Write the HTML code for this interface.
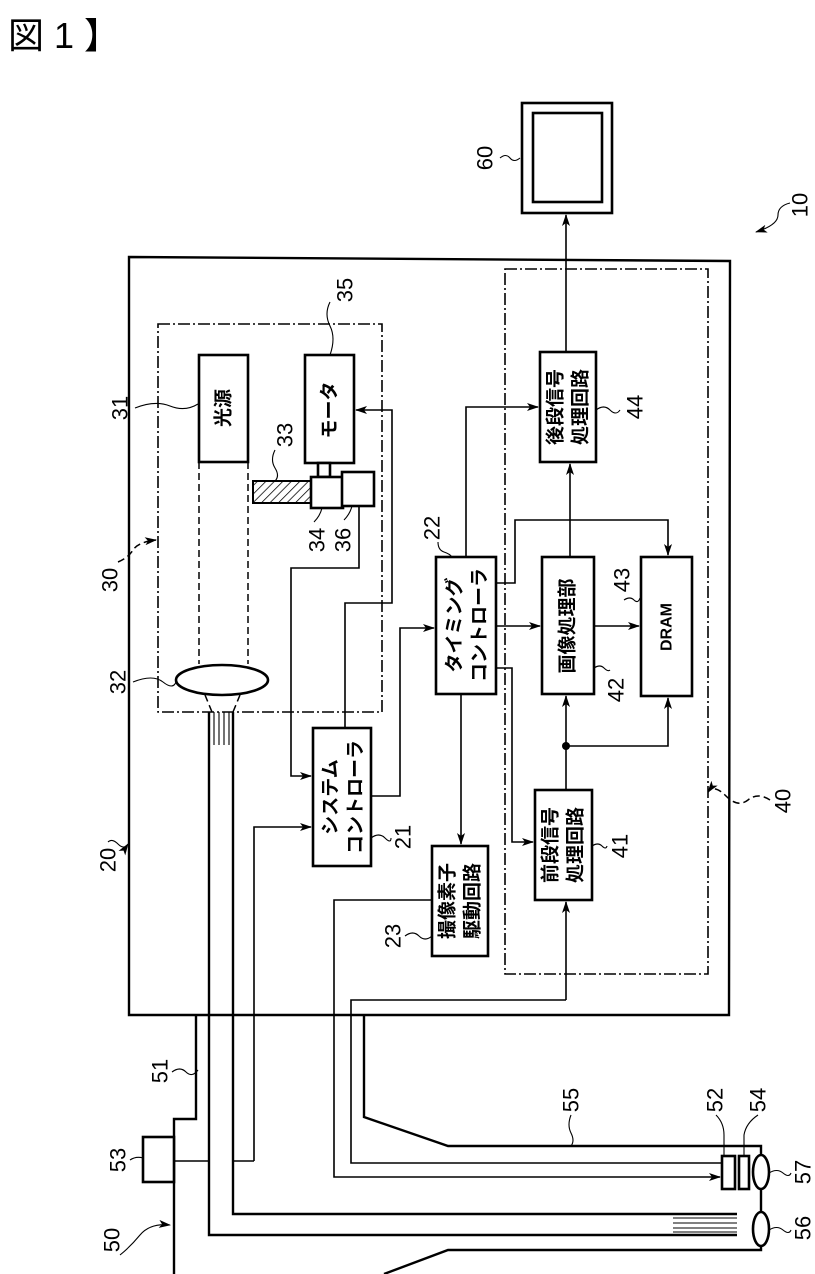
<!DOCTYPE html>
<html><head><meta charset="utf-8"><style>
html,body{margin:0;padding:0;background:#fff;}
svg{display:block;}
text{font-family:"Liberation Sans","Noto Sans CJK JP",sans-serif;fill:#000;}
.b{fill:#fff;stroke:#000;stroke-width:2.6;}
.l{fill:none;stroke:#000;stroke-width:1.6;}
.t{fill:none;stroke:#000;stroke-width:2.4;}
.d{fill:none;stroke:#000;stroke-width:1.6;stroke-dasharray:12,3,2,3;}
.dd{fill:none;stroke:#000;stroke-width:1.5;stroke-dasharray:7,4;}
.w{fill:none;stroke:#000;stroke-width:1.1;}
.n{font-size:22px;}
.j{font-size:19px;font-weight:bold;}
</style></head><body>
<svg width="815" height="1274" viewBox="0 0 815 1274" xmlns="http://www.w3.org/2000/svg">
<defs>
<marker id="a" markerWidth="12" markerHeight="8" refX="11" refY="4" orient="auto" markerUnits="userSpaceOnUse"><path d="M0,0 L12,4 L0,8 L3,4 Z" fill="#000"/></marker>
<pattern id="h" width="6" height="6" patternUnits="userSpaceOnUse" patternTransform="rotate(45)"><line x1="0" y1="0" x2="0" y2="6" stroke="#000" stroke-width="1.5"/></pattern>
</defs>
<text x="8" y="48" style="font-size:36px" xml:space="preserve">図 1 】</text>

<!-- monitor -->
<rect x="522" y="103" width="90" height="110" class="b"/>
<rect x="533" y="113" width="69" height="89" class="b" stroke-width="2"/>
<path d="M566,352 V215" class="l" marker-end="url(#a)"/>
<text class="n" transform="translate(485,158) rotate(-90)" text-anchor="middle" dominant-baseline="central">60</text>
<path d="M500,158 q6,-5 10,0 t10,0" class="w"/>
<text class="n" transform="translate(800,205) rotate(-90)" text-anchor="middle" dominant-baseline="central">10</text>
<path d="M790,203 q-12,3 -12,12 q0,10 -22,17" class="w" marker-end="url(#a)"/>

<!-- main frame 20 -->
<path d="M129,257 L730,261 L729,1015 L129,1015 Z" class="t"/>
<text class="n" transform="translate(108,860) rotate(-90)" text-anchor="middle" dominant-baseline="central">20</text>
<path d="M108,842 q4,-4 10,2 t10,0" class="w" marker-end="url(#a)"/>

<!-- dashed 30 -->
<rect x="158" y="324" width="224" height="388" class="d"/>
<text class="n" transform="translate(110,580) rotate(-90)" text-anchor="middle" dominant-baseline="central">30</text>
<path d="M118,562 q10,-4 15,-12 t23,-10" class="dd" marker-end="url(#a)"/>

<!-- light source -->
<rect x="199" y="355" width="49" height="107" class="b"/>
<text class="j" transform="translate(224,408) rotate(-90)" text-anchor="middle" dominant-baseline="central">光源</text>
<text class="n" transform="translate(120,408) rotate(-90)" text-anchor="middle" dominant-baseline="central">31</text>
<path d="M135,408 q20,-8 35,-2 t28,-2" class="w"/>
<path d="M199,462 V664 M248,462 V664" class="dd"/>
<ellipse cx="222" cy="680" rx="46" ry="15" class="b" stroke-width="2"/>
<text class="n" transform="translate(118,682) rotate(-90)" text-anchor="middle" dominant-baseline="central">32</text>
<path d="M133,682 q20,-8 30,0 t13,0" class="w"/>
<path d="M205,695 L212,712 M240,695 L233,712" class="dd"/>

<!-- motor -->
<rect x="305" y="355" width="49" height="108" class="b"/>
<text class="j" transform="translate(330,410) rotate(-90)" text-anchor="middle" dominant-baseline="central">モータ</text>
<text class="n" transform="translate(345,290) rotate(-90)" text-anchor="middle" dominant-baseline="central">35</text>
<path d="M330,302 q-6,12 0,24 t0,29" class="w"/>
<rect x="318" y="463" width="12" height="14" class="b" stroke-width="2"/>
<rect x="253" y="481" width="58" height="22" fill="url(#h)" stroke="#000" stroke-width="2"/>
<rect x="311" y="477" width="32" height="31" class="b" stroke-width="2"/>
<rect x="342" y="472" width="32" height="34" class="b" stroke-width="2"/>
<text class="n" transform="translate(285,435) rotate(-90)" text-anchor="middle" dominant-baseline="central">33</text>
<path d="M275,450 q-5,10 0,18 t0,13" class="w"/>
<text class="n" transform="translate(317,540) rotate(-90)" text-anchor="middle" dominant-baseline="central">34</text>
<text class="n" transform="translate(343,540) rotate(-90)" text-anchor="middle" dominant-baseline="central">36</text>
<path d="M322,508 q-2,8 -8,14" class="w"/>
<path d="M352,506 q-2,8 -8,14" class="w"/>

<!-- controller wiring -->
<path d="M359,506 V568 H291 V776 H311" class="l" marker-end="url(#a)"/>
<path d="M345,728 V603 H392 V410 H356" class="l" marker-end="url(#a)"/>
<path d="M371,796 H400 V628 H434" class="l" marker-end="url(#a)"/>
<path d="M254,1161 V827 H311" class="l" marker-end="url(#a)"/>

<!-- system controller 21 -->
<rect x="313" y="728" width="58" height="138" class="b"/>
<text class="j" transform="translate(331,797) rotate(-90)" text-anchor="middle" dominant-baseline="central">システム</text>
<text class="j" transform="translate(356,797) rotate(-90)" text-anchor="middle" dominant-baseline="central">コントローラ</text>
<text class="n" transform="translate(403,837) rotate(-90)" text-anchor="middle" dominant-baseline="central">21</text>
<path d="M371,838 q8,-6 14,0 t6,0" class="w"/>

<!-- timing 22 -->
<rect x="436" y="557" width="60" height="137" class="b"/>
<text class="j" transform="translate(455,625) rotate(-90)" text-anchor="middle" dominant-baseline="central">タイミング</text>
<text class="j" transform="translate(480,625) rotate(-90)" text-anchor="middle" dominant-baseline="central">コントローラ</text>
<text class="n" transform="translate(432,528) rotate(-90)" text-anchor="middle" dominant-baseline="central">22</text>
<path d="M438,542 q0,8 6,10 t8,5" class="w"/>

<!-- 23 -->
<rect x="432" y="846" width="56" height="110" class="b"/>
<text class="j" transform="translate(448,901) rotate(-90)" text-anchor="middle" dominant-baseline="central">撮像素子</text>
<text class="j" transform="translate(473,901) rotate(-90)" text-anchor="middle" dominant-baseline="central">駆動回路</text>
<text class="n" transform="translate(393,936) rotate(-90)" text-anchor="middle" dominant-baseline="central">23</text>
<path d="M405,936 q8,-6 14,0 t13,0" class="w"/>
<path d="M461,694 V844" class="l" marker-end="url(#a)"/>

<!-- dashed 40 -->
<rect x="505" y="269" width="203" height="705" class="d"/>
<text class="n" transform="translate(783,801) rotate(-90)" text-anchor="middle" dominant-baseline="central">40</text>
<path d="M770,800 q-12,-8 -22,0 t-22,-4 t-18,-4" class="dd" marker-end="url(#a)"/>

<!-- 44 -->
<rect x="540" y="352" width="56" height="110" class="b"/>
<text class="j" transform="translate(556,407) rotate(-90)" text-anchor="middle" dominant-baseline="central">後段信号</text>
<text class="j" transform="translate(581,407) rotate(-90)" text-anchor="middle" dominant-baseline="central">処理回路</text>
<text class="n" transform="translate(635,407) rotate(-90)" text-anchor="middle" dominant-baseline="central">44</text>
<path d="M596,410 q8,-6 14,0 t10,0" class="w"/>
<path d="M466,557 V407 H538" class="l" marker-end="url(#a)"/>
<path d="M570,557 V464" class="l" marker-end="url(#a)"/>

<!-- 42 -->
<rect x="542" y="557" width="52" height="137" class="b"/>
<text class="j" transform="translate(568,626) rotate(-90)" text-anchor="middle" dominant-baseline="central">画像処理部</text>
<text class="n" transform="translate(616,690) rotate(-90)" text-anchor="middle" dominant-baseline="central">42</text>
<path d="M594,668 q6,-4 10,0 t6,2" class="w"/>
<!-- DRAM -->
<rect x="641" y="557" width="51" height="139" class="b"/>
<text style="font-size:16px;font-weight:bold" transform="translate(667,627) rotate(-90)" text-anchor="middle" dominant-baseline="central">DRAM</text>
<text class="n" transform="translate(622,580) rotate(-90)" text-anchor="middle" dominant-baseline="central">43</text>
<path d="M624,600 q6,-4 10,0 t6,-2" class="w"/>

<path d="M496,626 H540" class="l" marker-end="url(#a)"/>
<path d="M594,626 H639" class="l" marker-end="url(#a)"/>
<path d="M496,583 H515 V520 H668 V555" class="l" marker-end="url(#a)"/>
<path d="M496,668 H512 V842 H533" class="l" marker-end="url(#a)"/>
<path d="M566,790 V746" class="l"/>
<path d="M566,746 V696" class="l" marker-end="url(#a)"/>
<path d="M566,746 H668 V698" class="l" marker-end="url(#a)"/>
<circle cx="566" cy="746" r="4" fill="#000"/>

<!-- 41 -->
<rect x="535" y="790" width="57" height="110" class="b"/>
<text class="j" transform="translate(551,845) rotate(-90)" text-anchor="middle" dominant-baseline="central">前段信号</text>
<text class="j" transform="translate(576,845) rotate(-90)" text-anchor="middle" dominant-baseline="central">処理回路</text>
<text class="n" transform="translate(620,846) rotate(-90)" text-anchor="middle" dominant-baseline="central">41</text>
<path d="M592,846 q6,-4 10,0 t5,0" class="w"/>

<!-- scope wiring -->
<path d="M432,900 H334 V1177 H720" class="l" marker-end="url(#a)"/>
<path d="M566,1000 V902" class="l" marker-end="url(#a)"/>
<path d="M566,1000 H351 V1163 H722" class="l"/>

<!-- fiber -->
<path d="M209,712 V1235 H737" class="t"/>
<path d="M233,712 V1214 H737" class="t"/>
<path d="M214,712 V745 M219,712 V745 M224,712 V745 M229,712 V745" class="w"/>
<path d="M673,1218 H737 M673,1223 H737 M673,1228 H737 M673,1232 H737" class="w"/>
<text class="n" transform="translate(160,1071) rotate(-90)" text-anchor="middle" dominant-baseline="central">51</text>
<path d="M172,1072 q8,-6 14,0 t12,-2" class="w"/>

<!-- handle 50 -->
<path d="M196,1015 V1119 H174 V1274" class="t"/>
<rect x="143" y="1137" width="31" height="45" class="b"/>
<path d="M174,1161 H209 M233,1161 H254" class="l"/>
<text class="n" transform="translate(118,1160) rotate(-90)" text-anchor="middle" dominant-baseline="central">53</text>
<path d="M130,1160 q6,-4 13,-2" class="w"/>
<text class="n" transform="translate(112,1240) rotate(-90)" text-anchor="middle" dominant-baseline="central">50</text>
<path d="M120,1255 q10,-8 20,-20 t30,-10" class="w" marker-end="url(#a)"/>

<!-- cable 55 -->
<path d="M364,1015 V1117 L448,1146 H761 V1157" class="t"/>
<path d="M761,1187 V1212 M761,1246 V1250 H448 L384,1274" class="t"/>
<text class="n" transform="translate(571,1100) rotate(-90)" text-anchor="middle" dominant-baseline="central">55</text>
<path d="M571,1115 q-4,10 0,18 t0,13" class="w"/>

<rect x="722" y="1156" width="13" height="33" class="b" stroke-width="2"/>
<rect x="739" y="1156" width="10" height="33" class="b" stroke-width="2"/>
<ellipse cx="761" cy="1172" rx="8" ry="17" class="b" stroke-width="2"/>
<ellipse cx="761" cy="1229" rx="8" ry="17" class="b" stroke-width="2"/>
<text class="n" transform="translate(715,1100) rotate(-90)" text-anchor="middle" dominant-baseline="central">52</text>
<text class="n" transform="translate(758,1100) rotate(-90)" text-anchor="middle" dominant-baseline="central">54</text>
<path d="M716,1115 q8,8 8,20 V1156" class="w"/>
<path d="M758,1115 q-12,8 -14,20 V1156" class="w"/>
<text class="n" transform="translate(803,1172) rotate(-90)" text-anchor="middle" dominant-baseline="central">57</text>
<text class="n" transform="translate(803,1228) rotate(-90)" text-anchor="middle" dominant-baseline="central">56</text>
<path d="M769,1173 q8,-5 14,0 t8,0" class="w"/>
<path d="M769,1230 q8,-5 14,0 t8,0" class="w"/>
</svg>
</body></html>
